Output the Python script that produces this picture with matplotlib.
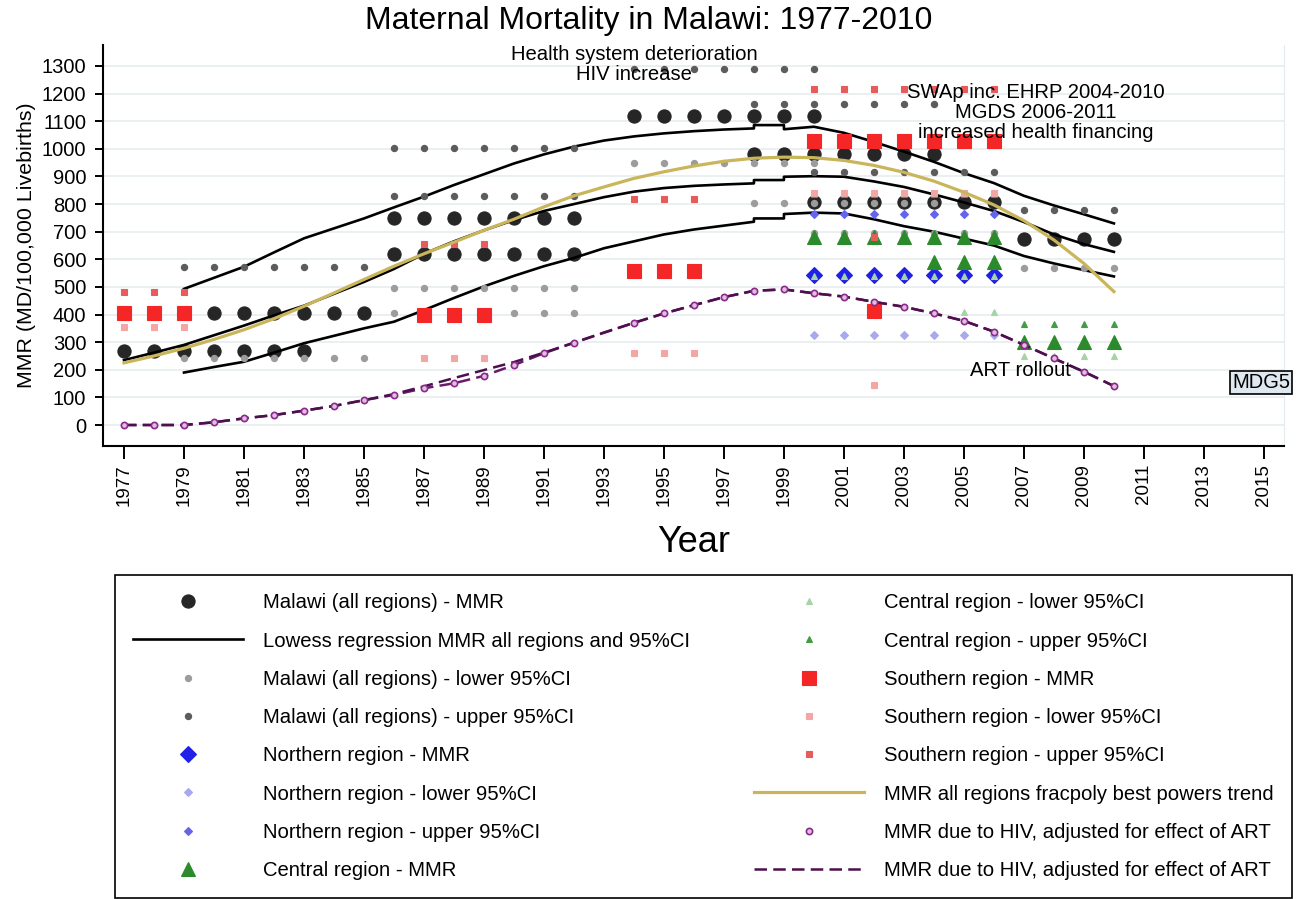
import numpy as np
import matplotlib.pyplot as plt

plt.rcParams['font.family'] = ['Liberation Sans', 'DejaVu Sans']

# Malawi (all regions) period estimates
mw_start = [1977, 1979, 1986, 1986, 1994, 1998, 2000, 2007]
mw_end = [1983, 1985, 1992, 1992, 2000, 2004, 2006, 2010]
mw_mmr = [268, 407, 620, 750, 1118, 983, 806, 673]
mw_lo = [np.nan, 241, 407, 497, 947, 803, 695, 570]
mw_hi = [np.nan, 573, 829, 1004, 1288, 1164, 917, 778]

# Northern region
no_start = [2000]
no_end = [2006]
no_mmr = [543]
no_lo = [326]
no_hi = [763]

# Central region
ce_start = [2000, 2004, 2007]
ce_end = [2006, 2006, 2010]
ce_mmr = [682, 591, 302]
ce_lo = [540, 408, 250]
ce_hi = [835, np.nan, 364]

# Southern region
so_start = [1977, 1987, 1994, 2000, 2002]
so_end = [1979, 1989, 1996, 2006, 2002]
so_mmr = [406, 397, 557, 1028, 412]
so_lo = [355, 242, 259, 839, 144]
so_hi = [481, 657, 818, 1215, 680]

# lowess regression (repeated years where several estimates overlap)
low_mid_years = [1977, 1978, 1979, 1980, 1981, 1982, 1983, 1984, 1985, 1986, 1987, 1988,
                 1989, 1990, 1991, 1992, 1993, 1994, 1995, 1996, 1997, 1998, 1998, 1999,
                 1999, 2000, 2001, 2002, 2003, 2004, 2005, 2006, 2007, 2008, 2009, 2010]
low_mid = [235, 262, 290, 325, 360, 397, 432, 475, 518, 565, 620, 665,
           705, 742, 775, 800, 825, 845, 858, 866, 871, 875, 887, 887,
           899, 901, 899, 882, 862, 835, 806, 775, 735, 690, 655, 627]
low_ci_years = low_mid_years[2:]
low_hi = [493, 533, 573, 625, 676, 712, 748, 788, 827, 869,
          908, 947, 980, 1008, 1030, 1045, 1056, 1064, 1070, 1074, 1086, 1086,
          1071, 1080, 1058, 1025, 990, 953, 912, 876, 830, 795, 763, 730]
low_lo = [190, 210, 229, 262, 296, 323, 350, 374, 416, 460,
          502, 540, 575, 605, 640, 665, 690, 708, 722, 736, 748, 748,
          764, 769, 766, 745, 720, 700, 675, 650, 612, 585, 561, 538]

# fractional polynomial trend
fp_years = list(range(1977, 2011))
fp_mmr = [225, 250, 278, 310, 345, 385, 430, 478, 527, 575, 620, 662, 705, 745, 790, 830, 862,
          893, 917, 938, 955, 966, 970, 968, 958, 940, 915, 883, 843, 797, 740, 670, 585, 483]

# MMR due to HIV
hiv_years = list(range(1977, 1993)) + list(range(1994, 2011))
hiv_mmr = [0, 0, 0, 10, 24, 36, 52, 69, 90, 109, 133, 151, 178, 217, 260, 298,
           370, 404, 434, 463, 486, 491, 477, 465, 446, 428, 404, 377, 338, 290, 241, 193, 141]
hiv2_years = list(range(1977, 2011))
hiv2_mmr = [0, 0, 0, 10, 24, 36, 52, 69, 90, 112, 140, 170, 199, 228, 262, 298, 335,
            370, 404, 434, 463, 486, 491, 477, 465, 446, 428, 404, 377, 338, 290, 241, 193, 141]


def expand(start, end, vals):
    xs, ys = [], []
    for s, e, v in zip(start, end, vals):
        for yr in range(s, e + 1):
            xs.append(yr)
            ys.append(v)
    return xs, ys


fig = plt.figure(figsize=(12.97, 8.99), dpi=100)
ax = fig.add_axes([103 / 1297, 1 - 446 / 899, (1284 - 103) / 1297, (446 - 45) / 899])

handles = []


def pts(start, end, vals, marker, ms, color, label, z=3):
    x, y = expand(start, end, vals)
    h, = ax.plot(x, y, ls='none', marker=marker, ms=ms, color=color,
                 mec=color, mfc=color, mew=0.8, label=label, zorder=z)
    handles.append(h)
    return h


pts(mw_start, mw_end, mw_mmr, 'o', 9.5, '#262626', 'Malawi (all regions) - MMR')
h, = ax.plot(low_mid_years, low_mid, color='black', lw=1.9, zorder=3,
             label='Lowess regression MMR all regions and 95%CI')
ax.plot(low_ci_years, low_hi, color='black', lw=1.9, zorder=3)
ax.plot(low_ci_years, low_lo, color='black', lw=1.9, zorder=3)
handles.append(h)
pts(mw_start, mw_end, mw_lo, 'o', 4.5, '#9c9c9c', 'Malawi (all regions) - lower 95%CI')
pts(mw_start, mw_end, mw_hi, 'o', 4.5, '#5c5c5c', 'Malawi (all regions) - upper 95%CI')
pts(no_start, no_end, no_mmr, 'D', 8.5, '#2020e8', 'Northern region - MMR')
pts(no_start, no_end, no_lo, 'D', 4.2, '#a9a9f2', 'Northern region - lower 95%CI')
pts(no_start, no_end, no_hi, 'D', 4.2, '#6565ea', 'Northern region - upper 95%CI')
pts(ce_start, ce_end, ce_mmr, '^', 10, '#2b8a2b', 'Central region - MMR')
pts(ce_start, ce_end, ce_lo, '^', 5, '#a6d4a6', 'Central region - lower 95%CI')
pts(ce_start, ce_end, ce_hi, '^', 5, '#449c44', 'Central region - upper 95%CI')
pts(so_start, so_end, so_mmr, 's', 9.5, '#f52626', 'Southern region - MMR')
pts(so_start, so_end, so_lo, 's', 4.5, '#f2a6a6', 'Southern region - lower 95%CI')
pts(so_start, so_end, so_hi, 's', 4.5, '#e65c5c', 'Southern region - upper 95%CI')
h, = ax.plot(fp_years, fp_mmr, color='#c9b55a', lw=2.3, zorder=3,
             label='MMR all regions fracpoly best powers trend')
handles.append(h)
ax.plot(hiv_years, hiv_mmr, color='#6a1a6a', lw=1.8, ls=(0, (5, 2.5)), zorder=3)
h, = ax.plot(hiv_years, hiv_mmr, ls='none', marker='o', ms=4.5, mfc='#e2bde2',
             mec='#8a2a8a', mew=1.2, zorder=4,
             label='MMR due to HIV, adjusted for effect of ART')
handles.append(h)
h, = ax.plot(hiv2_years, hiv2_mmr, color='#4d0f4d', lw=1.8, ls=(0, (5, 2.5)), zorder=3,
             label='MMR due to HIV, adjusted for effect of ART')
handles.append(h)

# axes styling
ax.set_xlim(1976.3, 2015.67)
ax.set_ylim(-76, 1376)
ax.set_yticks(range(0, 1400, 100))
ax.set_xticks(range(1977, 2016, 2))
ax.tick_params(axis='y', labelsize=14.5, length=6, width=1.4, pad=6)
ax.tick_params(axis='x', labelsize=13.5, length=9, width=1.4, pad=4, labelrotation=90)
ax.grid(axis='y', color='#e4ecef', lw=1.1, zorder=0)
ax.set_axisbelow(True)
for s in ['left', 'bottom']:
    ax.spines[s].set_linewidth(1.5)
ax.spines['top'].set_visible(False)
ax.spines['right'].set_color('#e4ecef')

ax.set_ylabel('MMR (MD/100,000 Livebirths)', fontsize=15.4, labelpad=4)
ax.set_xlabel('Year', fontsize=26, labelpad=14)
fig.text(0.5, 1 - 21 / 899, 'Maternal Mortality in Malawi: 1977-2010',
         ha='center', va='center', fontsize=23)

ax.text(1994, 1307, 'Health system deterioration\nHIV increase', ha='center',
        va='center', fontsize=14.6, linespacing=1.06, zorder=5)
ax.text(2007.4, 1133, 'SWAp inc. EHRP 2004-2010\nMGDS 2006-2011\nincreased health financing',
        ha='center', va='center', fontsize=14.6, linespacing=1.07, zorder=5)
ax.text(2006.9, 199, 'ART rollout', ha='center', va='center', fontsize=14.6, zorder=5)
ax.text(2014.9, 154, 'MDG5', ha='center', va='center', fontsize=14.5, zorder=5,
        clip_on=False,
        bbox=dict(boxstyle='square,pad=0.1', fc='#dfe8ee', ec='black', lw=1.2))

labels = [h.get_label() for h in handles]
leg = fig.legend(handles, labels, loc='upper left', ncol=2, mode='expand',
                 bbox_to_anchor=(115 / 1297, 0, (1292 - 115) / 1297, 1 - 575 / 899),
                 borderaxespad=0, fontsize=14.6, handlelength=5.4, handletextpad=1.0,
                 borderpad=0.9, labelspacing=0.95, numpoints=1, fancybox=False,
                 edgecolor='black', framealpha=1)
leg.get_frame().set_linewidth(1.2)

fig.savefig('out.png', dpi=100)
